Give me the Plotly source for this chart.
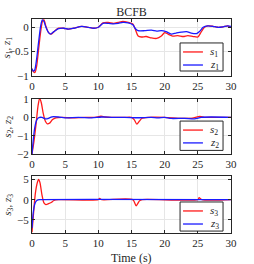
import plotly.graph_objects as go
from plotly.subplots import make_subplots

# ---- data ----
t_s1 = [0, 0.2, 0.45, 0.7, 1.0, 1.3, 1.6, 1.8, 2.1, 2.5, 2.9, 3.4, 4.0, 4.8, 5.5, 6.3, 7.5, 8.5, 9.3, 10.0,
        10.7, 11.5, 12.3, 13.0, 13.7, 14.5, 15.2, 15.6, 16.0, 16.5, 17.2, 18.0, 18.8, 19.5, 20.0, 20.5, 21.2,
        22.0, 22.8, 23.5, 24.3, 25.0, 25.4, 26.0, 26.5, 27.3, 28.0, 28.8, 29.5, 30.0]
s1 = [-0.85, -0.91, -0.93, -0.8, -0.45, -0.1, 0.13, 0.15, 0.02, -0.11, -0.14, -0.08, -0.02, -0.02, -0.04, -0.02,
      0.02, 0.0, -0.02, 0.0, 0.09, 0.1, 0.08, 0.1, 0.12, 0.1, 0.07, -0.05, -0.18, -0.2, -0.19, -0.22, -0.23,
      -0.18, -0.11, -0.14, -0.18, -0.17, -0.19, -0.17, -0.19, -0.2, -0.12, 0.0, 0.03, 0.02, 0.0, 0.01, 0.03, 0.0]
t_z1 = [0, 0.2, 0.4, 0.7, 1.0, 1.3, 1.55, 1.8, 2.1, 2.5, 2.8, 3.3, 4.0, 4.8, 5.5, 6.3, 7.5, 8.5, 9.3, 10.0,
        10.7, 11.5, 12.3, 13.0, 13.7, 14.5, 15.2, 15.6, 16.0, 17.0, 18.0, 18.8, 19.5, 20.2, 21.0, 21.7, 22.5,
        23.3, 24.0, 24.8, 25.3, 25.8, 26.5, 27.3, 28.0, 28.8, 29.5, 30.0]
z1 = [-0.85, -0.9, -0.88, -0.65, -0.3, 0.02, 0.15, 0.12, 0.0, -0.11, -0.14, -0.09, -0.03, -0.02, -0.04, -0.02,
      0.02, 0.0, -0.02, 0.0, 0.08, 0.08, 0.07, 0.08, 0.1, 0.09, 0.05, -0.03, -0.07, -0.07, -0.06, -0.08, -0.07,
      -0.09, -0.14, -0.12, -0.1, -0.09, -0.12, -0.13, -0.08, 0.0, 0.03, 0.02, 0.0, 0.01, 0.03, 0.02]

t_s2 = [0, 0.3, 0.6, 0.9, 1.15, 1.4, 1.7, 2.0, 2.3, 2.7, 3.1, 3.6, 4.5, 6, 8, 9.5, 10.4, 11, 12, 14, 15.0,
        15.4, 15.8, 16.2, 16.6, 17.5, 20, 22, 24, 25.3, 26, 28, 30]
s2 = [-2.0, -1.3, -0.4, 0.6, 1.05, 0.8, 0.2, -0.2, -0.35, -0.3, -0.12, -0.03, 0.0, -0.02, 0.0, 0.0, 0.06, 0.02,
      0.0, 0.0, 0.0, -0.12, -0.37, -0.2, -0.05, 0.0, 0.0, -0.05, -0.05, 0.05, 0.0, 0.0, 0.0]
t_z2 = [0, 0.2, 0.4, 0.7, 1.0, 1.5, 2.0, 2.5, 3.0, 4, 5, 7, 9, 10.5, 12, 14, 16, 18, 19, 20, 21, 23, 24.5,
        25.5, 27, 30]
z2 = [-2.0, -1.2, -0.6, -0.15, -0.02, 0.0, -0.08, -0.05, 0.03, 0.02, -0.03, 0.0, -0.03, 0.02, 0.0, 0.0, -0.02,
      0.0, -0.03, 0.0, -0.06, -0.05, -0.08, 0.0, 0.02, 0.0]

t_s3 = [0, 0.25, 0.5, 0.8, 1.0, 1.2, 1.5, 1.8, 2.1, 2.5, 2.9, 3.3, 4, 10, 10.2, 10.5, 15.2, 15.7, 16.2, 16.6,
        25.0, 25.2, 25.6, 30]
s3 = [-8.0, -3.0, 1.5, 4.2, 5.0, 4.2, 1.2, -0.8, -1.2, -1.0, -0.7, -0.2, 0.0, 0.0, 0.3, 0.0, 0.0, -1.5, -0.3,
      0.0, 0.0, 0.5, 0.0, 0.0]
t_z3 = [0, 0.2, 0.4, 0.6, 0.9, 1.2, 30]
z3 = [-7.0, -3.0, -1.2, -0.4, -0.05, 0.0, 0.0]

x_ticks = [0, 5, 10, 15, 20, 25, 30]
y1_ticks = [-1, -0.5, 0]
y2_ticks = [-2, -1, 0, 1]
y3_ticks = [-5, 0, 5]

RED = "#ff1a1a"
BLUE = "#1a1aff"
INK = "#262626"
FONT = "Liberation Serif"

fig = make_subplots(rows=3, cols=1, shared_xaxes=False, vertical_spacing=0.1)

series = [
    (1, t_s1, s1, RED, "<i>s</i><sub>1</sub>"),
    (1, t_z1, z1, BLUE, "<i>z</i><sub>1</sub>"),
    (2, t_s2, s2, RED, "<i>s</i><sub>2</sub>"),
    (2, t_z2, z2, BLUE, "<i>z</i><sub>2</sub>"),
    (3, t_s3, s3, RED, "<i>s</i><sub>3</sub>"),
    (3, t_z3, z3, BLUE, "<i>z</i><sub>3</sub>"),
]
for row, tx, vy, col, name in series:
    fig.add_trace(go.Scatter(x=tx, y=vy, mode="lines", name=name, showlegend=False,
                             line=dict(color=col, width=1.3, shape="spline", smoothing=0.7)),
                  row=row, col=1)

domains = [[0.734, 1.0], [0.369, 0.626], [0.0, 0.266]]
yranges = [[-1, 0.17], [-2, 1], [-8.2, 5.8]]
yticks = [y1_ticks, y2_ticks, y3_ticks]
ytitles = ["<i>s</i><sub>1</sub>, <i>z</i><sub>1</sub>",
           "<i>s</i><sub>2</sub>, <i>z</i><sub>2</sub>",
           "<i>s</i><sub>3</sub>, <i>z</i><sub>3</sub>"]

axis_common = dict(showline=True, linecolor=INK, linewidth=1, mirror="ticks", ticks="inside",
                   ticklen=3, tickcolor=INK, showgrid=True, gridcolor="#e6e6e6", gridwidth=1,
                   zeroline=False, automargin=False,
                   tickfont=dict(family=FONT, size=11, color=INK))

for i in range(3):
    xa = "xaxis" if i == 0 else f"xaxis{i+1}"
    ya = "yaxis" if i == 0 else f"yaxis{i+1}"
    fig.layout[xa].update(range=[0, 30], tickvals=x_ticks, **axis_common)
    fig.layout[ya].update(range=yranges[i], tickvals=yticks[i], domain=domains[i], **axis_common)
    yc = (domains[i][0] + domains[i][1]) / 2
    fig.add_annotation(text=ytitles[i], xref="paper", yref="paper", x=-0.125, y=yc,
                       xanchor="center", yanchor="middle", textangle=-90, showarrow=False,
                       font=dict(family=FONT, size=11, color=INK))

fig.add_annotation(text="Time (s)", xref="paper", yref="paper", x=0.5, y=-0.117,
                   xanchor="center", yanchor="middle", showarrow=False,
                   font=dict(family=FONT, size=12, color=INK))

# ---- legend boxes (compact inset legends as in the reference) ----
leg_boxes = [  # (y_top, y_bottom, y_entry1, y_entry2) in paper fractions of the plot area
    (0.888, 0.757, 0.846, 0.785),
    (0.523, 0.386, 0.481, 0.421),
    (0.145, 0.009, 0.103, 0.042),
]
leg_names = [("<i>s</i><sub>1</sub>", "<i>z</i><sub>1</sub>"),
             ("<i>s</i><sub>2</sub>", "<i>z</i><sub>2</sub>"),
             ("<i>s</i><sub>3</sub>", "<i>z</i><sub>3</sub>")]
for (yt, yb, ye1, ye2), (n1, n2) in zip(leg_boxes, leg_names):
    fig.add_shape(type="rect", xref="paper", yref="paper", x0=0.744, x1=0.960, y0=yb, y1=yt,
                  line=dict(color=INK, width=1), fillcolor="white", layer="above")
    for ye, col, nm in ((ye1, RED, n1), (ye2, BLUE, n2)):
        fig.add_shape(type="line", xref="paper", yref="paper", x0=0.759, x1=0.859, y0=ye, y1=ye,
                      line=dict(color=col, width=1.3), layer="above")
        fig.add_annotation(text=nm, xref="paper", yref="paper", x=0.885, y=ye, xanchor="left",
                           yanchor="middle", showarrow=False,
                           font=dict(family=FONT, size=11, color=INK))

fig.update_layout(
    width=254, height=264,
    margin=dict(l=32, r=23, t=19, b=31),
    paper_bgcolor="white", plot_bgcolor="white",
    title=dict(text="BCFB", x=0.5, xref="paper", y=1 - 12 / 264, yanchor="middle",
               font=dict(family=FONT, size=12, color=INK)),
    showlegend=False,
)

# remove the browser's default 8px body margin so the figure fills the window exactly
fig.write_html("out.html", config={"displayModeBar": False},
               post_script="document.body.style.margin='0';")
